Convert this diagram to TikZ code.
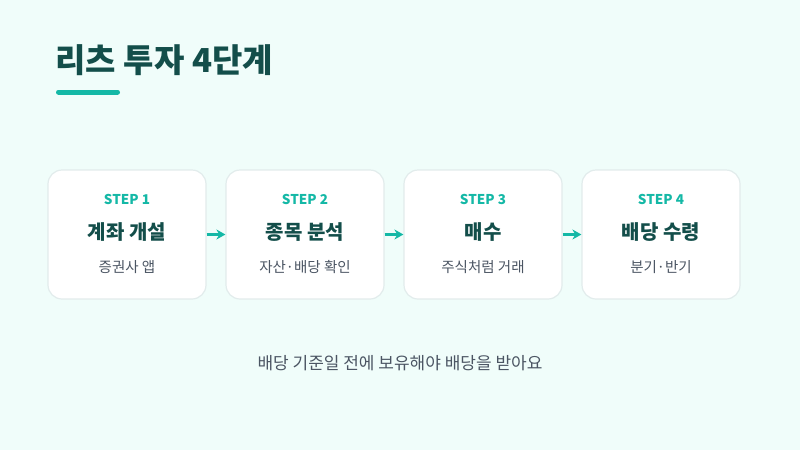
\documentclass[tikz,border=0pt]{standalone}
\usepackage{fontspec}
\setmainfont{Noto Sans CJK KR}
\usetikzlibrary{arrows.meta}
\definecolor{bg}{HTML}{F0FDFA}
\definecolor{teal}{HTML}{14B8A6}
\definecolor{dark}{HTML}{134E4A}
\definecolor{gry}{HTML}{4B5563}
\definecolor{bd}{HTML}{E2ECEC}
\begin{document}
\begin{tikzpicture}[x=1pt,y=-1pt,
 card/.style={draw=bd,line width=1.2pt,fill=white,rounded corners=14pt,minimum width=158pt,minimum height=129pt,inner sep=0pt},
 steplbl/.style={text=teal,font=\fontsize{13.5}{16}\selectfont\bfseries},
 head/.style={text=dark,font=\fontsize{20}{24}\selectfont\bfseries},
 sub/.style={text=gry,font=\fontsize{14.5}{17}\selectfont},
 arr/.style={-{Stealth[length=9pt,width=10pt]},teal,line width=2.6pt}]
\fill[bg] (0,0) rectangle (800,450);
\node[anchor=west,text=dark,font=\fontsize{33}{38}\selectfont\bfseries] (title) at (52,60) {리츠 투자 4단계};
\draw[teal,line width=5pt,line cap=round] (58.5,92) -- (117.5,92);
\foreach \i/\x/\t/\s in {1/127/계좌 개설/증권사 앱,2/305/종목 분석/자산·배당 확인,3/483/매수/주식처럼 거래,4/661/배당 수령/분기·반기}{
 \node[card] (c\i) at (\x,234.5) {};
 \node[steplbl] (s\i) at (\x,199) {STEP \i};
 \node[head] (h\i) at (\x,232) {\t};
 \node[sub] (u\i) at (\x,267) {\s};
}
\draw[arr] (c1.east) -- (c2.west);
\draw[arr] (c2.east) -- (c3.west);
\draw[arr] (c3.east) -- (c4.west);
\node[text=gry,font=\fontsize{17}{20}\selectfont] (foot) at (400,363) {배당 기준일 전에 보유해야 배당을 받아요};
\end{tikzpicture}
\end{document}
